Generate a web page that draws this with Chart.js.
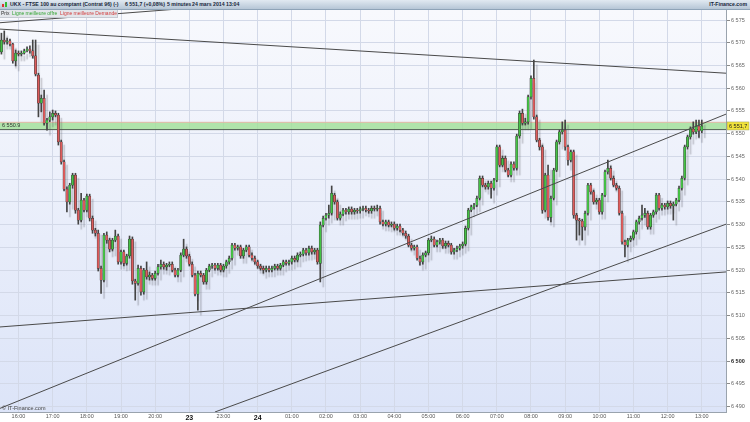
<!DOCTYPE html>
<html>
<head>
<meta charset="utf-8">
<script src="https://cdn.jsdelivr.net/npm/chart.js@4.4.1/dist/chart.umd.min.js"></script>
<style>
  html, body { margin: 0; padding: 0; background: #fff; }
  #wrap { position: relative; width: 750px; height: 422px; overflow: hidden; font-family: "Liberation Sans", Arial, sans-serif; }
  #chart { position: absolute; left: 0; top: 0; }
  .bar { position: absolute; left: 0; top: 0; width: 750px; height: 9px; background: linear-gradient(#e1e9f1, #b6c6d6); border-bottom: 1px solid #8ea3b7; }
  .t { position: absolute; top: 1px; font-size: 5.2px; line-height: 7px; font-weight: bold; color: #17263a; white-space: nowrap; }
  .icon { position: absolute; left: 2px; top: 2px; width: 6px; height: 5px; }
  .icon i { position: absolute; bottom: 0; width: 2px; }
  .legend { position: absolute; left: 0; top: 10px; height: 7px; width: 117px; background: #e3e6eb; border-right: 1px solid #c6cad2; border-bottom: 1px solid #c6cad2; font-size: 5px; line-height: 7px; white-space: nowrap; }
  .legend span { position: absolute; top: 0; }
</style>
</head>
<body>
<div id="wrap">
  <canvas id="chart" width="750" height="422"></canvas>
  <div class="bar">
    <div class="icon"><i style="left:0;height:3px;background:#d33"></i><i style="left:3px;height:5px;background:#3b3"></i></div>
    <span class="t" style="left:10px">UKX - FTSE 100 au comptant (Contrat 96) (-)</span>
    <span class="t" style="left:125px">6 551,7 (+0,08%)</span>
    <span class="t" style="left:167px">5 minutes</span>
    <span class="t" style="left:192px">24 mars 2014 13:04</span>
    <span class="t" style="right:3px">IT-Finance.com</span>
  </div>
  <div class="legend">
    <span style="left:1px;color:#333">Prix</span>
    <span style="left:12px;color:#33a533">Ligne meilleure offre</span>
    <span style="left:60px;color:#d23c3c">Ligne meilleure Demande</span>
  </div>
</div>
<script>
// slots on the time axis (5 minute bars), hour labels every 12 slots
const slotCount = 255;
const hourSlots = [6, 18, 30, 42, 54, 66, 78, 90, 102, 114, 126, 138, 150, 162, 174, 186, 198, 210, 222, 234, 246];
const hourLabels = ['16:00', '17:00', '18:00', '19:00', '20:00', '23', '23:00', '24', '01:00', '02:00', '03:00',
  '04:00', '05:00', '06:00', '07:00', '08:00', '09:00', '10:00', '11:00', '12:00', '13:00'];
const priceTicks = [6490, 6495, 6500, 6505, 6510, 6515, 6520, 6525, 6530, 6535, 6540, 6545, 6550, 6555, 6560, 6565, 6570, 6575];

const open = [
  6568.0, 6570.6, 6570.2, 6570.4, 6569.7, 6566.0, 6567.7, 6567.5, 6567.7, 6568.2,
  6568.6, 6568.2, 6567.1, 6562.9, 6556.7, 6557.8, 6552.3, 6553.0, 6553.7, 6554.5,
  6554.1, 6548.2, 6543.8, 6537.8, 6535.0, 6538.7, 6540.9, 6533.2, 6531.0, 6535.4,
  6533.2, 6536.3, 6531.4, 6528.8, 6528.1, 6520.4, 6517.8, 6527.7, 6526.6, 6524.6,
  6526.6, 6527.5, 6521.8, 6524.0, 6521.5, 6523.1, 6526.8, 6517.6, 6517.1, 6520.4,
  6515.2, 6520.0, 6518.5, 6518.9, 6518.2, 6519.3, 6520.7, 6521.3, 6520.7, 6521.1, 6521.3, 6520.0, 6518.9,
  6520.0, 6523.3, 6524.6, 6523.1, 6521.3, 6518.9, 6514.7, 6519.3, 6518.9, 6517.4,
  6520.0, 6520.9, 6521.1, 6520.4, 6521.1, 6520.0, 6520.9, 6521.8, 6522.6, 6525.5,
  6524.8, 6525.1, 6523.1, 6524.4, 6525.1, 6523.3, 6522.6, 6521.8, 6520.9, 6520.4,
  6520.0, 6520.4, 6520.0, 6520.4, 6520.9, 6520.4, 6521.1, 6521.8, 6521.5, 6521.8,
  6522.6, 6522.2, 6523.3, 6523.5, 6524.4, 6523.8, 6524.8, 6524.0, 6524.4, 6521.5,
  6529.9, 6531.4, 6532.1, 6532.5, 6536.5, 6535.0, 6531.4, 6532.3, 6533.2, 6532.8,
  6533.4, 6532.8, 6533.2, 6533.0, 6533.4, 6533.6, 6533.2, 6533.0, 6533.6, 6533.4,
  6533.6, 6530.6, 6530.1, 6530.6, 6529.9, 6530.1, 6529.2, 6529.7, 6528.8, 6528.1,
  6527.5, 6525.5, 6524.8, 6525.1, 6522.6, 6521.8, 6523.3, 6523.8, 6526.6, 6526.8,
  6525.5, 6526.2, 6526.6, 6525.3, 6525.9, 6525.5, 6524.0, 6524.4, 6524.8, 6525.3,
  6525.7, 6529.2, 6533.2, 6533.9, 6534.3, 6535.8, 6540.2, 6538.7, 6538.3, 6539.1,
  6538.0, 6539.8, 6547.1, 6543.1, 6544.6, 6542.0, 6540.9, 6543.3, 6542.4, 6549.5,
  6554.5, 6552.3, 6552.6, 6558.1, 6562.2, 6553.7, 6548.6, 6547.1, 6533.2, 6540.9,
  6531.6, 6535.8, 6542.0, 6548.2, 6550.4, 6550.8, 6547.1, 6544.2, 6546.0, 6532.1,
  6531.0, 6530.8, 6529.5, 6532.5, 6538.7, 6537.2, 6535.0, 6535.4, 6532.8, 6536.5,
  6541.6, 6542.4, 6540.2, 6538.7, 6538.0, 6532.5, 6526.2, 6525.5, 6526.6, 6527.0,
  6528.4, 6530.6, 6531.4, 6532.1, 6532.5, 6529.5, 6532.1, 6532.8, 6536.5, 6533.6,
  6534.3, 6533.9, 6534.7, 6534.1, 6534.5, 6535.4, 6538.0, 6540.2, 6547.1, 6549.3,
  6551.0, 6550.4, 6551.7, 6550.6
];
const high = [
  6572.1, 6572.6, 6571.0, 6570.8, 6569.9, 6568.4, 6568.2, 6568.2, 6568.6, 6569.1,
  6569.3, 6570.6, 6570.6, 6563.3, 6558.5, 6559.6, 6553.4, 6554.8, 6555.2, 6555.0,
  6554.5, 6548.6, 6544.2, 6538.3, 6539.1, 6541.3, 6541.3, 6533.6, 6536.9, 6535.8,
  6536.7, 6536.7, 6531.9, 6529.2, 6528.8, 6520.9, 6528.1, 6528.4, 6527.0, 6527.0,
  6528.8, 6527.9, 6524.4, 6524.4, 6523.5, 6527.5, 6527.3, 6518.0, 6521.1, 6520.9,
  6520.4, 6521.8, 6519.6, 6519.3, 6519.8, 6521.3, 6522.2, 6521.8, 6521.5, 6521.8, 6521.8, 6520.4, 6520.4,
  6523.8, 6526.8, 6525.1, 6523.5, 6521.8, 6519.3, 6519.8, 6519.8, 6519.3, 6520.4,
  6521.3, 6521.5, 6521.5, 6521.5, 6521.5, 6521.3, 6522.2, 6523.1, 6525.9, 6525.9,
  6525.5, 6525.5, 6524.8, 6525.5, 6525.5, 6523.8, 6523.1, 6522.2, 6521.3, 6520.9,
  6520.9, 6520.9, 6520.9, 6521.3, 6521.3, 6521.5, 6522.2, 6522.2, 6522.2, 6523.1,
  6523.1, 6523.8, 6524.0, 6524.8, 6524.8, 6525.3, 6525.3, 6524.8, 6524.8, 6530.6,
  6531.9, 6532.5, 6534.3, 6538.5, 6536.9, 6535.4, 6532.8, 6533.6, 6533.6, 6533.9,
  6533.9, 6533.6, 6533.6, 6533.9, 6534.1, 6534.1, 6533.6, 6534.1, 6534.1, 6534.3,
  6534.1, 6531.0, 6531.0, 6531.0, 6530.6, 6530.6, 6530.1, 6530.1, 6529.2, 6528.6,
  6527.9, 6525.9, 6525.5, 6525.5, 6523.1, 6523.8, 6524.2, 6527.0, 6527.5, 6527.3,
  6526.6, 6527.0, 6527.0, 6526.4, 6526.4, 6525.9, 6524.8, 6525.3, 6525.7, 6526.2,
  6529.7, 6533.6, 6534.3, 6534.7, 6536.3, 6540.7, 6540.7, 6539.1, 6539.6, 6539.6,
  6540.2, 6547.5, 6547.5, 6545.1, 6545.1, 6542.4, 6543.8, 6543.8, 6549.9, 6555.0,
  6555.4, 6553.4, 6558.5, 6562.7, 6566.2, 6554.1, 6549.0, 6547.5, 6541.3, 6543.1,
  6536.3, 6542.4, 6548.6, 6550.8, 6552.6, 6553.0, 6547.5, 6546.4, 6546.4, 6532.5,
  6531.4, 6531.2, 6533.0, 6539.1, 6539.1, 6537.6, 6535.8, 6535.8, 6536.9, 6542.0,
  6544.2, 6542.9, 6540.7, 6539.1, 6538.5, 6533.0, 6526.6, 6527.0, 6527.5, 6528.8,
  6531.0, 6531.9, 6534.3, 6533.6, 6533.0, 6532.5, 6533.2, 6536.9, 6536.9, 6534.7,
  6534.7, 6535.2, 6535.2, 6535.0, 6535.8, 6538.5, 6540.7, 6547.5, 6549.7, 6551.5,
  6552.6, 6553.0, 6553.0, 6553.0
];
const low = [
  6567.5, 6569.7, 6569.7, 6569.3, 6565.5, 6564.9, 6567.1, 6567.1, 6567.5, 6568.0,
  6567.7, 6566.6, 6562.7, 6553.7, 6554.8, 6551.9, 6550.8, 6552.6, 6553.0, 6553.7,
  6547.5, 6543.3, 6537.4, 6532.8, 6534.5, 6538.0, 6532.5, 6530.1, 6530.6, 6532.8,
  6532.8, 6530.8, 6528.1, 6527.5, 6519.8, 6514.9, 6517.4, 6525.9, 6524.0, 6524.2,
  6526.2, 6521.3, 6521.3, 6520.9, 6521.1, 6522.6, 6516.9, 6513.4, 6516.7, 6514.5,
  6514.7, 6518.0, 6517.8, 6517.8, 6517.8, 6518.9, 6520.2, 6520.2, 6520.0, 6520.7, 6519.6, 6518.5, 6518.5,
  6519.6, 6522.9, 6522.6, 6520.9, 6518.5, 6514.3, 6511.2, 6518.5, 6516.9, 6516.9,
  6519.6, 6520.4, 6520.0, 6520.0, 6519.6, 6519.6, 6520.4, 6521.3, 6522.2, 6524.4,
  6524.4, 6522.6, 6522.6, 6524.0, 6522.9, 6522.2, 6521.3, 6520.4, 6520.0, 6519.3,
  6519.6, 6519.6, 6519.6, 6520.0, 6520.0, 6520.0, 6520.7, 6521.1, 6521.1, 6521.3,
  6521.8, 6521.8, 6522.9, 6523.1, 6523.3, 6523.3, 6523.5, 6523.5, 6521.3, 6517.4,
  6529.5, 6531.0, 6531.4, 6532.1, 6534.5, 6531.0, 6531.0, 6531.9, 6532.3, 6532.3,
  6532.3, 6532.3, 6532.5, 6532.5, 6533.0, 6532.8, 6532.5, 6532.5, 6533.0, 6533.0,
  6530.1, 6529.7, 6529.7, 6529.5, 6529.5, 6528.8, 6528.8, 6528.4, 6527.7, 6527.0,
  6525.1, 6524.4, 6524.4, 6522.2, 6521.1, 6521.3, 6522.9, 6523.3, 6526.2, 6525.1,
  6525.1, 6525.7, 6524.8, 6524.8, 6525.1, 6523.5, 6523.5, 6524.0, 6524.4, 6524.8,
  6525.3, 6528.8, 6532.8, 6533.4, 6533.9, 6535.4, 6538.3, 6537.8, 6537.8, 6535.8,
  6537.6, 6539.4, 6542.7, 6542.7, 6541.6, 6540.5, 6540.5, 6542.0, 6542.0, 6549.0,
  6551.9, 6551.9, 6552.1, 6557.6, 6553.2, 6548.2, 6546.4, 6532.5, 6532.8, 6531.0,
  6530.6, 6535.4, 6541.6, 6547.7, 6549.9, 6546.4, 6543.1, 6543.8, 6531.4, 6526.6,
  6527.7, 6526.6, 6528.8, 6532.1, 6536.7, 6534.5, 6534.5, 6532.3, 6532.3, 6536.1,
  6541.1, 6539.8, 6538.3, 6537.6, 6532.1, 6525.7, 6522.9, 6525.1, 6526.2, 6526.6,
  6527.9, 6530.1, 6531.0, 6531.6, 6529.0, 6529.0, 6531.6, 6532.3, 6533.2, 6533.2,
  6533.4, 6533.4, 6533.6, 6531.0, 6534.1, 6535.0, 6537.6, 6539.8, 6546.6, 6548.8,
  6549.9, 6550.0, 6549.2, 6550.2
];
const close = [
  6570.6, 6570.2, 6570.4, 6569.7, 6566.0, 6567.7, 6567.5, 6567.7, 6568.2, 6568.6,
  6568.2, 6567.1, 6563.1, 6556.7, 6557.8, 6552.3, 6553.0, 6553.7, 6554.5, 6554.1,
  6548.2, 6543.8, 6537.8, 6535.0, 6538.7, 6540.9, 6533.2, 6531.0, 6535.4, 6533.2,
  6536.3, 6531.4, 6528.8, 6528.1, 6520.4, 6517.8, 6527.7, 6526.6, 6524.6, 6526.6,
  6527.5, 6521.8, 6524.0, 6521.5, 6523.1, 6526.8, 6517.6, 6517.1, 6520.4, 6515.2,
  6520.0, 6518.5, 6518.9, 6518.2, 6519.3, 6520.7, 6521.3, 6520.7, 6521.1, 6521.3, 6520.0, 6518.9, 6520.0,
  6523.3, 6524.6, 6523.1, 6521.3, 6518.9, 6514.7, 6519.3, 6518.9, 6517.4, 6520.0,
  6520.9, 6521.1, 6520.4, 6521.1, 6520.0, 6520.9, 6521.8, 6522.6, 6525.5, 6524.8,
  6525.1, 6523.1, 6524.4, 6525.1, 6523.3, 6522.6, 6521.8, 6520.9, 6520.4, 6520.0,
  6520.4, 6520.0, 6520.4, 6520.9, 6520.4, 6521.1, 6521.8, 6521.5, 6521.8, 6522.6,
  6522.2, 6523.3, 6523.5, 6524.4, 6523.8, 6524.8, 6524.0, 6524.4, 6521.8, 6529.9,
  6531.4, 6532.1, 6532.5, 6536.9, 6535.0, 6531.4, 6532.3, 6533.2, 6532.8, 6533.4,
  6532.8, 6533.2, 6533.0, 6533.4, 6533.6, 6533.2, 6533.0, 6533.6, 6533.4, 6533.6,
  6530.6, 6530.1, 6530.6, 6529.9, 6530.1, 6529.2, 6529.7, 6528.8, 6528.1, 6527.5,
  6525.5, 6524.8, 6525.1, 6522.6, 6521.8, 6523.3, 6523.8, 6526.6, 6526.8, 6525.5,
  6526.2, 6526.6, 6525.3, 6525.9, 6525.5, 6524.0, 6524.4, 6524.8, 6525.3, 6525.7,
  6529.2, 6533.2, 6533.9, 6534.3, 6535.8, 6540.2, 6538.7, 6538.3, 6539.1, 6538.0,
  6539.8, 6547.1, 6543.1, 6544.6, 6542.0, 6540.9, 6543.3, 6542.4, 6549.5, 6554.5,
  6552.3, 6552.6, 6558.1, 6562.2, 6553.7, 6548.6, 6547.1, 6533.2, 6540.9, 6531.6,
  6535.8, 6542.0, 6548.2, 6550.4, 6550.8, 6547.1, 6544.2, 6546.0, 6532.1, 6531.0,
  6530.8, 6529.5, 6532.5, 6538.7, 6537.2, 6535.0, 6535.4, 6532.8, 6536.5, 6541.6,
  6542.4, 6540.2, 6538.7, 6538.0, 6532.5, 6526.2, 6525.5, 6526.6, 6527.0, 6528.4,
  6530.6, 6531.4, 6532.1, 6532.5, 6529.5, 6532.1, 6532.8, 6536.5, 6533.6, 6534.3,
  6533.9, 6534.7, 6534.1, 6534.5, 6535.4, 6538.0, 6540.2, 6547.1, 6549.3, 6551.0,
  6550.4, 6551.7, 6550.6, 6551.7
];

// hand drawn trend lines, [slot, price] end points
const trendLines = [
  [[-0.5, 6574.4], [103.1, 6579.4]],
  [[-0.5, 6573.0], [254.5, 6563.3]],
  [[-0.5, 6489.6], [254.5, 6554.3]],
  [[75.0, 6488.8], [254.5, 6530.1]],
  [[-0.5, 6507.5], [254.5, 6519.6]]
];
const bidPrice = 6550.9;
const askPrice = 6552.5;
const lastPrice = 6551.7;

const labels = Array.from({ length: slotCount }, (_, i) => {
  const k = hourSlots.indexOf(i);
  return k >= 0 ? hourLabels[k] : '';
});
const fmt = v => String(v).replace(/^(\d)(\d{3})/, '$1 $2');

const lineSets = trendLines.map((pts, i) => ({
  type: 'line',
  xAxisID: 'xl',
  data: pts.map(p => ({ x: p[0], y: p[1] })),
  borderColor: '#4a4a4a',
  borderWidth: 1,
  pointRadius: 0,
  order: 0,
  clip: i === 0 ? { left: 0, top: 10, right: 0, bottom: 0 } : 0
}));

const bandSets = [
  {
    type: 'line', xAxisID: 'xl',
    data: [{ x: -0.5, y: askPrice }, { x: slotCount - 0.5, y: askPrice }],
    borderColor: '#e3b7a6', borderWidth: 1, pointRadius: 0, order: 5
  },
  {
    type: 'line', xAxisID: 'xl',
    data: [{ x: -0.5, y: bidPrice }, { x: slotCount - 0.5, y: bidPrice }],
    borderColor: '#4f5b50', borderWidth: 1, pointRadius: 0, order: 5,
    fill: { target: '-1' }, backgroundColor: 'rgba(160, 224, 150, 0.8)'
  }
];

const upColor = '#45c245';
const downColor = '#dd5c5c';

const wickSet = {
  data: high.map((h, i) => [low[i], h]),
  backgroundColor: '#444',
  barThickness: 1,
  grouped: false,
  order: 3
};
const bodySet = {
  data: open.map((o, i) => [o, close[i]]),
  backgroundColor: open.map((o, i) => close[i] >= o ? upColor : downColor),
  borderColor: '#353535',
  borderWidth: 0.5,
  borderSkipped: false,
  barThickness: 2.3,
  grouped: false,
  order: 2
};

const backdrop = {
  id: 'backdrop',
  beforeDraw(chart) {
    const { ctx, chartArea: a } = chart;
    const g = ctx.createLinearGradient(0, a.top, 0, a.bottom);
    g.addColorStop(0, '#f8f9fd');
    g.addColorStop(1, '#dce4f8');
    ctx.save();
    ctx.fillStyle = g;
    ctx.fillRect(a.left, a.top, a.right - a.left, a.bottom - a.top);
    ctx.restore();
  }
};

// soft grey shadow behind the candles
const candleShadow = {
  id: 'candleShadow',
  beforeDatasetDraw(chart, args) {
    if (args.meta.type !== 'bar') return;
    const ctx = chart.ctx;
    ctx.save();
    ctx.shadowColor = 'rgba(80, 80, 90, 0.28)';
    ctx.shadowOffsetX = 3;
    ctx.shadowOffsetY = 5;
    ctx.shadowBlur = 1;
  },
  afterDatasetDraw(chart, args) {
    if (args.meta.type !== 'bar') return;
    chart.ctx.restore();
  }
};

const tags = {
  id: 'tags',
  afterDraw(chart) {
    const { ctx, chartArea: a, scales } = chart;
    ctx.save();
    ctx.font = '5.5px "Liberation Sans"';
    ctx.textBaseline = 'middle';
    ctx.fillStyle = '#333';
    ctx.fillText(fmt(bidPrice.toFixed(1)), a.left + 2, scales.y.getPixelForValue((bidPrice + askPrice) / 2));
    // last price tag on the axis
    const y = scales.y.getPixelForValue(lastPrice);
    ctx.fillStyle = '#f1e33a';
    ctx.strokeStyle = '#9a9a60';
    ctx.lineWidth = 0.5;
    ctx.fillRect(a.right + 1, y - 4, 22, 8);
    ctx.strokeRect(a.right + 1, y - 4, 22, 8);
    ctx.fillStyle = '#222';
    ctx.fillText(fmt(lastPrice.toFixed(1)).replace('.', ','), a.right + 3, y + 0.5);
    ctx.fillStyle = '#444';
    ctx.fillText('\u00a9 IT-Finance.com', a.left + 2, a.bottom - 4);
    ctx.restore();
  }
};

new Chart(document.getElementById('chart'), {
  type: 'bar',
  data: {
    labels: labels,
    datasets: [...lineSets, bodySet, wickSet, ...bandSets]
  },
  options: {
    responsive: false,
    animation: false,
    devicePixelRatio: 1,
    events: [],
    layout: { padding: { top: 10, left: 0, right: 0, bottom: 0 } },
    plugins: { legend: { display: false }, tooltip: { enabled: false } },
    scales: {
      x: {
        type: 'category',
        offset: true,
        grid: { offset: false, color: '#d3d9e8', drawTicks: false },
        border: { color: '#9aa3ad' },
        ticks: {
          autoSkip: false, maxRotation: 0, minRotation: 0, padding: 1.5,
          color: ctx => ctx.tick && ctx.tick.label.length <= 2 ? '#111' : '#555',
          font: ctx => ctx.tick && ctx.tick.label.length <= 2
            ? { family: 'Liberation Sans', size: 7, weight: 'bold' }
            : { family: 'Liberation Sans', size: 5.5 }
        },
        afterBuildTicks: axis => { axis.ticks = axis.ticks.filter(t => labels[t.value] !== ''); },
        afterFit: axis => { axis.height = 10; }
      },
      xl: { type: 'linear', display: false, offset: false, min: -0.5, max: slotCount - 0.5 },
      y: {
        type: 'linear',
        position: 'right',
        min: 6488.8,
        max: 6577.2,
        grid: { color: '#d3d9e8', tickLength: 4, tickColor: '#8a8a8a' },
        border: { color: '#9aa3ad' },
        ticks: {
          padding: 1,
          color: ctx => ctx.tick && ctx.tick.value === 6500 ? '#222' : '#666',
          font: ctx => ({ family: 'Liberation Sans', size: 5.5, weight: ctx.tick && ctx.tick.value === 6500 ? 'bold' : 'normal' }),
          callback: v => fmt(v)
        },
        afterBuildTicks: axis => { axis.ticks = priceTicks.map(v => ({ value: v })); },
        afterFit: axis => { axis.width = 24; }
      }
    }
  },
  plugins: [backdrop, candleShadow, tags]
});
</script>
</body>
</html>
